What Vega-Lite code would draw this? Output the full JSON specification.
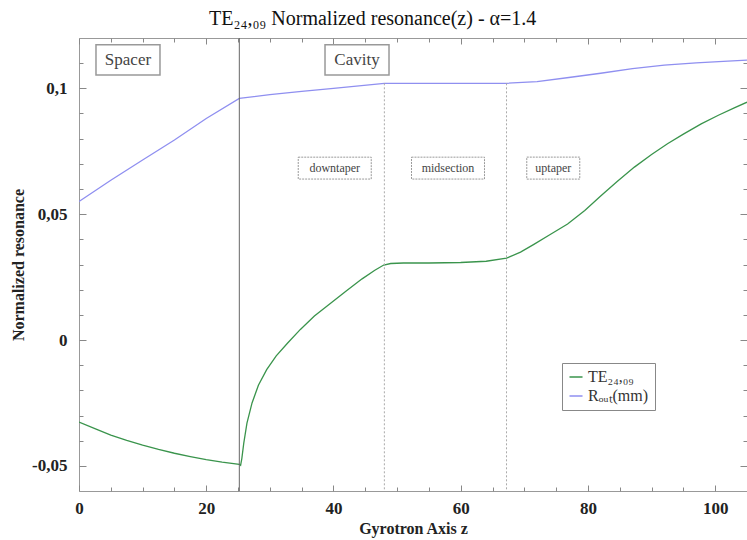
{
  "$schema": "https://vega.github.io/schema/vega-lite/v6.json",
  "width": 668,
  "height": 453,
  "autosize": {"type": "none"},
  "padding": {"left": 79, "top": 38, "right": 0, "bottom": 49},
  "background": "white",
  "title": {
    "text": "TE₂₄,₀₉ Normalized resonance(z) - α=1.4",
    "anchor": "start",
    "frame": "group",
    "dx": 130,
    "dy": 20,
    "font": "Liberation Serif",
    "fontSize": 20,
    "fontWeight": "normal",
    "color": "#111",
    "offset": 13,
    "baseline": "alphabetic"
  },
  "config": {
    "view": {"stroke": "#999", "strokeWidth": 1},
    "axis": {
      "domain": false,
      "grid": false,
      "tickColor": "#888",
      "labelFont": "Liberation Serif",
      "titleFont": "Liberation Serif"
    }
  },
  "datasets": {
    "curves": [
      {"z": 0, "value": -0.0326, "series": "TE₂₄,₀₉"},
      {"z": 2.5, "value": -0.0352, "series": "TE₂₄,₀₉"},
      {"z": 5, "value": -0.0378, "series": "TE₂₄,₀₉"},
      {"z": 7.5, "value": -0.0399, "series": "TE₂₄,₀₉"},
      {"z": 10, "value": -0.0418, "series": "TE₂₄,₀₉"},
      {"z": 12.5, "value": -0.0435, "series": "TE₂₄,₀₉"},
      {"z": 15, "value": -0.045, "series": "TE₂₄,₀₉"},
      {"z": 17.5, "value": -0.0463, "series": "TE₂₄,₀₉"},
      {"z": 20, "value": -0.0475, "series": "TE₂₄,₀₉"},
      {"z": 22.5, "value": -0.0485, "series": "TE₂₄,₀₉"},
      {"z": 25.2, "value": -0.0494, "series": "TE₂₄,₀₉"},
      {"z": 25.4, "value": -0.0498, "series": "TE₂₄,₀₉"},
      {"z": 25.6, "value": -0.047, "series": "TE₂₄,₀₉"},
      {"z": 25.9, "value": -0.041, "series": "TE₂₄,₀₉"},
      {"z": 26.4, "value": -0.033, "series": "TE₂₄,₀₉"},
      {"z": 27.2, "value": -0.025, "series": "TE₂₄,₀₉"},
      {"z": 28.2, "value": -0.018, "series": "TE₂₄,₀₉"},
      {"z": 29.5, "value": -0.0118, "series": "TE₂₄,₀₉"},
      {"z": 31, "value": -0.0063, "series": "TE₂₄,₀₉"},
      {"z": 32.8, "value": -0.0012, "series": "TE₂₄,₀₉"},
      {"z": 34.8, "value": 0.0042, "series": "TE₂₄,₀₉"},
      {"z": 37, "value": 0.0095, "series": "TE₂₄,₀₉"},
      {"z": 39.5, "value": 0.0145, "series": "TE₂₄,₀₉"},
      {"z": 42, "value": 0.0195, "series": "TE₂₄,₀₉"},
      {"z": 44.5, "value": 0.0243, "series": "TE₂₄,₀₉"},
      {"z": 46.5, "value": 0.0277, "series": "TE₂₄,₀₉"},
      {"z": 47.9, "value": 0.0298, "series": "TE₂₄,₀₉"},
      {"z": 49, "value": 0.0304, "series": "TE₂₄,₀₉"},
      {"z": 51, "value": 0.0306, "series": "TE₂₄,₀₉"},
      {"z": 55, "value": 0.0306, "series": "TE₂₄,₀₉"},
      {"z": 60, "value": 0.0308, "series": "TE₂₄,₀₉"},
      {"z": 64, "value": 0.0313, "series": "TE₂₄,₀₉"},
      {"z": 67.2, "value": 0.0325, "series": "TE₂₄,₀₉"},
      {"z": 69.4, "value": 0.0349, "series": "TE₂₄,₀₉"},
      {"z": 71.5, "value": 0.038, "series": "TE₂₄,₀₉"},
      {"z": 74, "value": 0.0418, "series": "TE₂₄,₀₉"},
      {"z": 76.8, "value": 0.0461, "series": "TE₂₄,₀₉"},
      {"z": 79.5, "value": 0.0515, "series": "TE₂₄,₀₉"},
      {"z": 82, "value": 0.0572, "series": "TE₂₄,₀₉"},
      {"z": 84.5, "value": 0.0628, "series": "TE₂₄,₀₉"},
      {"z": 87.3, "value": 0.0687, "series": "TE₂₄,₀₉"},
      {"z": 90, "value": 0.0737, "series": "TE₂₄,₀₉"},
      {"z": 92.5, "value": 0.078, "series": "TE₂₄,₀₉"},
      {"z": 95, "value": 0.0818, "series": "TE₂₄,₀₉"},
      {"z": 97.8, "value": 0.0859, "series": "TE₂₄,₀₉"},
      {"z": 100.5, "value": 0.0893, "series": "TE₂₄,₀₉"},
      {"z": 103, "value": 0.0922, "series": "TE₂₄,₀₉"},
      {"z": 105, "value": 0.0945, "series": "TE₂₄,₀₉"},
      {"z": 0, "value": 0.055, "series": "Rₒᵤₜ(mm)"},
      {"z": 5, "value": 0.0635, "series": "Rₒᵤₜ(mm)"},
      {"z": 10, "value": 0.0715, "series": "Rₒᵤₜ(mm)"},
      {"z": 15, "value": 0.0795, "series": "Rₒᵤₜ(mm)"},
      {"z": 20, "value": 0.088, "series": "Rₒᵤₜ(mm)"},
      {"z": 25.2, "value": 0.096, "series": "Rₒᵤₜ(mm)"},
      {"z": 30, "value": 0.0975, "series": "Rₒᵤₜ(mm)"},
      {"z": 35, "value": 0.0988, "series": "Rₒᵤₜ(mm)"},
      {"z": 40, "value": 0.1, "series": "Rₒᵤₜ(mm)"},
      {"z": 48, "value": 0.102, "series": "Rₒᵤₜ(mm)"},
      {"z": 67.2, "value": 0.102, "series": "Rₒᵤₜ(mm)"},
      {"z": 72, "value": 0.1027, "series": "Rₒᵤₜ(mm)"},
      {"z": 77, "value": 0.1043, "series": "Rₒᵤₜ(mm)"},
      {"z": 82, "value": 0.106, "series": "Rₒᵤₜ(mm)"},
      {"z": 87, "value": 0.1078, "series": "Rₒᵤₜ(mm)"},
      {"z": 92, "value": 0.1092, "series": "Rₒᵤₜ(mm)"},
      {"z": 97, "value": 0.1101, "series": "Rₒᵤₜ(mm)"},
      {"z": 102, "value": 0.1108, "series": "Rₒᵤₜ(mm)"},
      {"z": 105, "value": 0.1112, "series": "Rₒᵤₜ(mm)"}
    ],
    "boundary": [
      {"z": 25.2, "top": 0.12, "bottom": -0.06}
    ],
    "sections": [
      {"z": 48, "top": 0.102, "bottom": -0.06},
      {"z": 67.2, "top": 0.102, "bottom": -0.06}
    ],
    "regions": [
      {"z": 7.7, "y": 0.1113, "label": "Spacer"},
      {"z": 43.7, "y": 0.1113, "label": "Cavity"}
    ],
    "parts": [
      {"z": 40.2, "y": 0.0683, "label": "downtaper"},
      {"z": 58.0, "y": 0.0683, "label": "midsection"},
      {"z": 74.55, "y": 0.0683, "label": "uptaper"}
    ]
  },
  "layer": [
    {
      "data": {"name": "curves"},
      "mark": {"type": "line", "strokeWidth": 1.3, "clip": true},
      "encoding": {
        "x": {
          "field": "z", "type": "quantitative",
          "scale": {"domain": [0, 105], "nice": false, "zero": false},
          "axis": {
            "orient": "bottom",
            "values": [0, 20, 40, 60, 80, 100],
            "tickSize": -6,
            "labelFontSize": 17,
            "labelFontWeight": "bold",
            "labelColor": "#222",
            "labelPadding": 15,
            "labelFlush": false,
            "title": "Gyrotron Axis z",
            "titleFontSize": 16,
            "titleFontWeight": "bold",
            "titleColor": "#222",
            "titlePadding": 4
          }
        },
        "y": {
          "field": "value", "type": "quantitative",
          "scale": {"domain": [-0.06, 0.12], "nice": false, "zero": false},
          "axis": {
            "orient": "left",
            "values": [-0.05, 0, 0.05, 0.1],
            "tickSize": -7,
            "labelExpr": "replace(toString(datum.value), '.', ',')",
            "labelFontSize": 17,
            "labelFontWeight": "bold",
            "labelColor": "#222",
            "labelPadding": 19,
            "title": "Normalized resonance",
            "titleFontSize": 16,
            "titleFontWeight": "bold",
            "titleColor": "#222",
            "titlePadding": 5
          }
        },
        "color": {
          "field": "series", "type": "nominal",
          "scale": {"domain": ["TE₂₄,₀₉", "Rₒᵤₜ(mm)"], "range": ["#3a944c", "#8f8ff0"]},
          "legend": {
            "orient": "none",
            "legendX": 483,
            "legendY": 325,
            "title": null,
            "labelFont": "Liberation Serif",
            "labelFontSize": 16,
            "labelColor": "#333",
            "symbolType": "stroke",
            "symbolSize": 170,
            "symbolStrokeWidth": 1.5,
            "strokeColor": "#888",
            "fillColor": "white",
            "padding": 6,
            "rowPadding": 3,
            "labelOffset": 4
          }
        }
      }
    },
    {
      "data": {"name": "boundary"},
      "mark": {"type": "rule", "color": "#666", "strokeWidth": 1},
      "encoding": {
        "x": {
          "field": "z", "type": "quantitative",
          "scale": {"domain": [0, 105], "nice": false, "zero": false},
          "axis": {"orient": "top", "values": [0, 20, 40, 60, 80, 100], "tickSize": -6, "labels": false, "title": null}
        },
        "y": {
          "field": "top", "type": "quantitative",
          "scale": {"domain": [-0.06, 0.12], "nice": false, "zero": false},
          "axis": {"orient": "right", "values": [-0.05, 0, 0.05, 0.1], "tickSize": -7, "labels": false, "title": null}
        },
        "y2": {"field": "bottom"}
      }
    },
    {
      "data": {"name": "sections"},
      "mark": {"type": "rule", "color": "#aaa", "strokeWidth": 1, "strokeDash": [2, 2]},
      "encoding": {
        "x": {
          "field": "z", "type": "quantitative",
          "scale": {"domain": [0, 105], "nice": false, "zero": false},
          "axis": {"orient": "bottom", "values": [5, 10, 15, 25, 30, 35, 45, 50, 55, 65, 70, 75, 85, 90, 95], "tickSize": -4, "labels": false, "title": null}
        },
        "y": {
          "field": "top", "type": "quantitative",
          "scale": {"domain": [-0.06, 0.12], "nice": false, "zero": false},
          "axis": {"orient": "left", "values": [-0.04, -0.03, -0.02, -0.01, 0.01, 0.02, 0.03, 0.04, 0.06, 0.07, 0.08, 0.09, 0.11], "tickSize": -4, "labels": false, "title": null}
        },
        "y2": {"field": "bottom"}
      }
    },
    {
      "data": {"name": "regions"},
      "mark": {"type": "point", "shape": "M-1,-0.47H1V0.47H-1Z", "size": 4096, "filled": true, "fill": "white", "stroke": "#999", "strokeWidth": 1.5, "opacity": 1},
      "encoding": {
        "x": {
          "field": "z", "type": "quantitative",
          "scale": {"domain": [0, 105], "nice": false, "zero": false},
          "axis": {"orient": "top", "values": [5, 10, 15, 25, 30, 35, 45, 50, 55, 65, 70, 75, 85, 90, 95], "tickSize": -4, "labels": false, "title": null}
        },
        "y": {
          "field": "y", "type": "quantitative",
          "scale": {"domain": [-0.06, 0.12], "nice": false, "zero": false},
          "axis": {"orient": "right", "values": [-0.04, -0.03, -0.02, -0.01, 0.01, 0.02, 0.03, 0.04, 0.06, 0.07, 0.08, 0.09, 0.11], "tickSize": -4, "labels": false, "title": null}
        }
      }
    },
    {
      "data": {"name": "regions"},
      "mark": {"type": "text", "font": "Liberation Serif", "fontSize": 17, "color": "#444", "align": "center", "baseline": "middle"},
      "encoding": {
        "x": {"field": "z", "type": "quantitative", "scale": {"domain": [0, 105], "nice": false, "zero": false}, "axis": null},
        "y": {"field": "y", "type": "quantitative", "scale": {"domain": [-0.06, 0.12], "nice": false, "zero": false}, "axis": null},
        "text": {"field": "label"}
      }
    },
    {
      "data": {"name": "parts"},
      "transform": [{"filter": "datum.label !== 'uptaper'"}],
      "mark": {"type": "point", "shape": "M-1,-0.3H1V0.3H-1Z", "size": 5329, "filled": true, "fill": "white", "stroke": "#999", "strokeWidth": 1, "strokeDash": [2, 1], "opacity": 1},
      "encoding": {
        "x": {"field": "z", "type": "quantitative", "scale": {"domain": [0, 105], "nice": false, "zero": false}, "axis": null},
        "y": {"field": "y", "type": "quantitative", "scale": {"domain": [-0.06, 0.12], "nice": false, "zero": false}, "axis": null}
      }
    },
    {
      "data": {"name": "parts"},
      "transform": [{"filter": "datum.label === 'uptaper'"}],
      "mark": {"type": "point", "shape": "M-1,-0.415H1V0.415H-1Z", "size": 2809, "filled": true, "fill": "white", "stroke": "#999", "strokeWidth": 1, "strokeDash": [2, 1], "opacity": 1},
      "encoding": {
        "x": {"field": "z", "type": "quantitative", "scale": {"domain": [0, 105], "nice": false, "zero": false}, "axis": null},
        "y": {"field": "y", "type": "quantitative", "scale": {"domain": [-0.06, 0.12], "nice": false, "zero": false}, "axis": null}
      }
    },
    {
      "data": {"name": "parts"},
      "mark": {"type": "text", "font": "Liberation Serif", "fontSize": 12, "color": "#444", "align": "center", "baseline": "middle"},
      "encoding": {
        "x": {"field": "z", "type": "quantitative", "scale": {"domain": [0, 105], "nice": false, "zero": false}, "axis": null},
        "y": {"field": "y", "type": "quantitative", "scale": {"domain": [-0.06, 0.12], "nice": false, "zero": false}, "axis": null},
        "text": {"field": "label"}
      }
    }
  ],
  "resolve": {"axis": {"x": "independent", "y": "independent"}}
}
